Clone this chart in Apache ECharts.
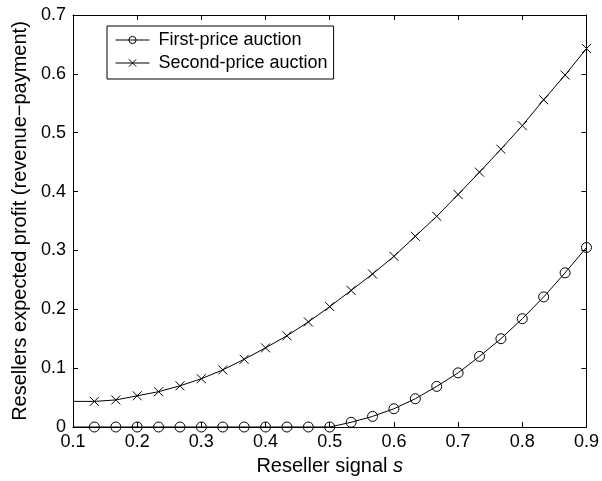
<!DOCTYPE html>
<html>
<head>
<meta charset="utf-8">
<script src="https://cdn.jsdelivr.net/npm/echarts@6/dist/echarts.min.js"></script>
<style>
  html, body { margin: 0; padding: 0; background: #fff; }
  #chart { width: 602px; height: 481px; }
</style>
</head>
<body>
<div id="chart"></div>
<script>
// ---- data ----
const sMarks = [0.1333, 0.1667, 0.2, 0.2333, 0.2667, 0.3, 0.3333, 0.3667, 0.4, 0.4333, 0.4667, 0.5,
                0.5333, 0.5667, 0.6, 0.6333, 0.6667, 0.7, 0.7333, 0.7667, 0.8, 0.8333, 0.8667, 0.9];
const firstPrice = [0, 0, 0, 0, 0, 0, 0, 0, 0, 0, 0, 0,
                    0.008, 0.018, 0.031, 0.048, 0.069, 0.092, 0.120, 0.150, 0.184, 0.221, 0.262, 0.305];
const secondPrice = [0.0435, 0.046, 0.053, 0.060, 0.070, 0.082, 0.097, 0.115, 0.1345, 0.155, 0.1785, 0.2045,
                     0.232, 0.260, 0.290, 0.324, 0.358, 0.395, 0.433, 0.472, 0.512, 0.556, 0.598, 0.643];
const lineStartS = 0.1;
const firstStart = 0;
const secondStart = 0.0435;
const seriesNames = ['First-price auction', 'Second-price auction'];
const xTicks = [0.1, 0.2, 0.3, 0.4, 0.5, 0.6, 0.7, 0.8, 0.9];
const yTicks = [0, 0.1, 0.2, 0.3, 0.4, 0.5, 0.6, 0.7];
const xTitle = 'Reseller signal ';
const xTitleItalic = 's';
const yTitle = 'Resellers expected profit (revenue\u2212payment)';

// ---- build ----
function buildData(start, vals) {
  const d = [{ value: [lineStartS, start], symbol: 'none' }];
  sMarks.forEach((s, i) => d.push([s, vals[i]]));
  return d;
}
const FONT = "'Liberation Sans', Arial, Helvetica, sans-serif";
const crossPath = 'path://M0,0L10,10M10,0L0,10';

const chart = echarts.init(document.getElementById('chart'), null, { renderer: 'canvas' });
const baseAxis = {
  type: 'value',
  splitLine: { show: false },
  axisLine: { show: true, onZero: false, lineStyle: { color: '#000', width: 1 } },
  axisTick: { show: true, inside: true, length: 5, lineStyle: { color: '#000', width: 1 } }
};
const fmt = v => (Math.abs(v) < 1e-9 ? '0' : (Math.round(v * 10) / 10).toString());

chart.setOption({
  animation: false,
  backgroundColor: '#fff',
  textStyle: { fontFamily: FONT },
  grid: { left: 73, right: 14, top: 15, bottom: 53, containLabel: false },
  legend: {
    orient: 'vertical',
    left: 107, top: 26,
    data: seriesNames,
    borderColor: '#000', borderWidth: 1,
    backgroundColor: '#fff',
    padding: [4, 6, 6, 8],
    itemWidth: 34, itemHeight: 9, itemGap: 3,
    lineStyle: { width: 1, color: '#000' },
    itemStyle: { borderWidth: 1 },
    textStyle: { fontFamily: FONT, fontSize: 18, color: '#000', lineHeight: 20, padding: [0, 0, 0, 4] }
  },
  xAxis: [
    Object.assign({}, baseAxis, {
      position: 'bottom', min: xTicks[0], max: xTicks[xTicks.length - 1], interval: 0.1,
      axisLabel: { show: true, color: '#000', fontSize: 18, fontFamily: FONT, margin: 6, formatter: fmt },
      name: xTitle + '{i|' + xTitleItalic + '}',
      nameLocation: 'middle', nameGap: 29,
      nameTextStyle: { color: '#000', fontSize: 20, fontFamily: FONT,
        rich: { i: { fontStyle: 'italic', fontSize: 20, fontFamily: FONT, color: '#000' } } }
    }),
    Object.assign({}, baseAxis, {
      position: 'top', min: xTicks[0], max: xTicks[xTicks.length - 1], interval: 0.1,
      axisLabel: { show: false }
    })
  ],
  yAxis: [
    Object.assign({}, baseAxis, {
      position: 'left', min: yTicks[0], max: yTicks[yTicks.length - 1], interval: 0.1,
      axisLabel: { show: true, color: '#000', fontSize: 18, fontFamily: FONT, margin: 7, formatter: fmt },
      name: yTitle, nameLocation: 'middle', nameGap: 41, nameRotate: 90,
      nameTextStyle: { color: '#000', fontSize: 20, fontFamily: FONT }
    }),
    Object.assign({}, baseAxis, {
      position: 'right', min: yTicks[0], max: yTicks[yTicks.length - 1], interval: 0.1,
      axisLabel: { show: false }
    })
  ],
  series: [
    {
      name: seriesNames[0], type: 'line', xAxisIndex: 0, yAxisIndex: 0,
      data: buildData(firstStart, firstPrice),
      symbol: 'circle', symbolSize: 10, showSymbol: true,
      smooth: false,
      lineStyle: { color: '#000', width: 1 },
      itemStyle: { color: 'rgba(0,0,0,0)', borderColor: '#000', borderWidth: 1 },
      emphasis: { disabled: true }
    },
    {
      name: seriesNames[1], type: 'line', xAxisIndex: 0, yAxisIndex: 0,
      data: buildData(secondStart, secondPrice),
      symbol: crossPath, symbolSize: 9, showSymbol: true,
      smooth: false,
      lineStyle: { color: '#000', width: 1 },
      itemStyle: { color: 'rgba(0,0,0,0)', borderColor: '#000', borderWidth: 1 },
      emphasis: { disabled: true }
    }
  ]
});
</script>
</body>
</html>
